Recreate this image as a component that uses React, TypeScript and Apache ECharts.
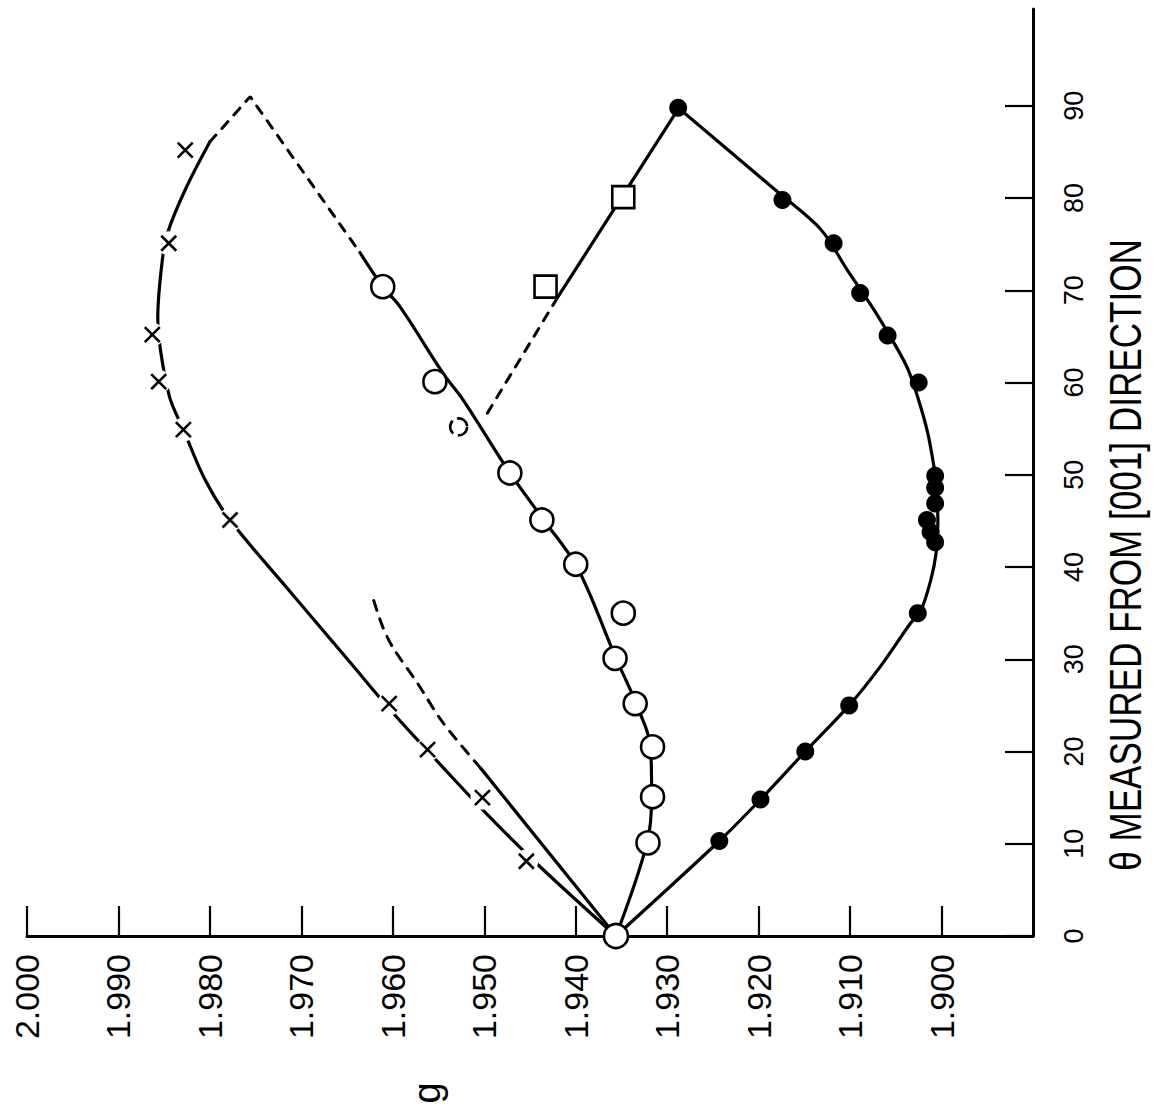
import { useEffect, useRef } from "react";
import * as echarts from "echarts";

// g axis (horizontal) ticks and theta axis (vertical) ticks
const gTicks = [1.9, 1.91, 1.92, 1.93, 1.94, 1.95, 1.96, 1.97, 1.98, 1.99, 2.0];
const thetaTicks = [0, 10, 20, 30, 40, 50, 60, 70, 80, 90];

// [g, theta] pairs
const filledPoints = [
  [1.9243, 10.3], [1.9198, 14.8], [1.9149, 20.0], [1.9101, 25.0], [1.9026, 35.0],
  [1.9007, 42.7], [1.9012, 43.8], [1.9016, 45.1], [1.9007, 46.9], [1.9007, 48.6],
  [1.9007, 49.9], [1.9025, 60.0], [1.9059, 65.1], [1.9089, 69.7], [1.9118, 75.1],
  [1.9174, 79.8], [1.9288, 89.8],
];
const filledCurve = [
  [1.9356, 0], [1.9243, 10.3], [1.9198, 14.8], [1.9149, 20.0], [1.9101, 25.0],
  [1.9067, 29.2], [1.9034, 33.9], [1.9023, 35.2], [1.9012, 38.5], [1.9006, 41.5],
  [1.9004, 45.0], [1.9007, 49.9], [1.9009, 51.3], [1.9015, 54.5], [1.9026, 58.4],
  [1.9037, 61.5], [1.9048, 63.6], [1.9074, 67.9], [1.9103, 72.2], [1.9132, 76.6],
  [1.9182, 80.9], [1.9288, 89.8],
];

const openPoints = [
  [1.9321, 10.1], [1.9316, 15.1], [1.9316, 20.5], [1.9335, 25.2], [1.9357, 30.1],
  [1.9348, 35.0], [1.94, 40.3], [1.9437, 45.1], [1.9472, 50.2], [1.9554, 60.1],
  [1.9611, 70.4],
];
const openBroken = [[1.9528, 55.2]];
const originPoint = [[1.9356, 0]];
const openCurve = [
  [1.9356, 0], [1.9322, 10.1], [1.9317, 15.1], [1.9318, 20.2], [1.9334, 25.2],
  [1.9356, 30.1], [1.9398, 39.9], [1.9435, 45.1], [1.9472, 50.2], [1.9523, 58.1],
  [1.9545, 61.0], [1.9592, 68.2], [1.9611, 70.4], [1.9636, 74.1],
];

const crossPoints = [
  [1.9454, 8.1], [1.9502, 15.0], [1.9562, 20.2], [1.9604, 25.2], [1.9778, 45.1],
  [1.9829, 54.9], [1.9856, 60.1], [1.9863, 65.2], [1.9845, 75.1], [1.9827, 85.2],
];
const crossCurve = [
  [1.9356, 0], [1.9441, 7.7], [1.9499, 13.4], [1.955, 18.8], [1.96, 24.2],
  [1.9647, 29.7], [1.9712, 37.3], [1.9778, 45.1], [1.9805, 49.4], [1.9829, 54.9],
  [1.9844, 58.4], [1.9854, 63.5], [1.9857, 67.0], [1.9852, 73.3], [1.9846, 76.3],
  [1.9827, 80.9], [1.98, 86.1],
];
const closureDash = [[1.98, 86.1], [1.9756, 91.0], [1.9636, 74.1]];

const squarePoints = [[1.9433, 70.4], [1.9348, 80.1]];
const squareSolid = [[1.9287, 89.8], [1.942, 69.2]];
const squareDash = [[1.942, 69.2], [1.9499, 56.3]];

const innerSolid = [[1.9356, 0], [1.9504, 18.2]];
const innerDash = [
  [1.9504, 18.2], [1.9545, 23.1], [1.9573, 27.4], [1.96, 31.3], [1.9611, 33.5], [1.9621, 36.4],
];

const FONT = "'Liberation Sans', Arial, sans-serif";
const INK = "#000";

export default function App() {
  const ref = useRef<HTMLDivElement>(null);
  useEffect(() => {
    if (!ref.current) return;
    const chart = echarts.init(ref.current, null, { renderer: "svg" });
    const line = (data: number[][], type: any = "solid", width = 3.2, smooth: number | boolean = 0.35) => ({
      type: "line",
      data,
      smooth,
      showSymbol: false,
      symbol: "none",
      silent: true,
      z: 2,
      lineStyle: { color: INK, width, type, cap: "round", opacity: 1 },
    });
    const scatter = (data: number[][], symbol: string, size: number, itemStyle: any, z = 4) => ({
      type: "scatter",
      data,
      symbol,
      symbolSize: size,
      silent: true,
      z,
      itemStyle: { opacity: 1, ...itemStyle },
    });
    chart.setOption({
      animation: false,
      backgroundColor: "#fff",
      grid: { left: 27, right: 124, top: 9, bottom: 177, containLabel: false },
      xAxis: {
        type: "value",
        min: 1.89,
        max: 2.0,
        inverse: true,
        position: "bottom",
        splitLine: { show: false },
        axisLine: { show: true, lineStyle: { color: INK, width: 3 } },
        axisTick: { show: true, inside: true, length: 30, customValues: gTicks, lineStyle: { color: INK, width: 2.2 } },
        axisLabel: {
          customValues: gTicks,
          rotate: 90,
          margin: 18,
          color: INK,
          fontFamily: FONT,
          fontSize: 34,
          formatter: (v: number) => v.toFixed(3),
        },
      },
      yAxis: {
        type: "value",
        min: 0,
        max: 100.5,
        position: "right",
        splitLine: { show: false },
        axisLine: { show: true, lineStyle: { color: INK, width: 3 } },
        axisTick: { show: true, inside: true, length: 28, customValues: thetaTicks, lineStyle: { color: INK, width: 2.2 } },
        axisLabel: {
          customValues: thetaTicks,
          rotate: 90,
          margin: 27,
          color: INK,
          fontFamily: FONT,
          fontSize: 27,
          formatter: (v: number) => String(Math.round(v)),
        },
      },
      graphic: [
        {
          type: "text",
          x: 1125,
          y: 555,
          rotation: Math.PI / 2,
          scaleX: 0.78,
          style: {
            text: "\u03B8 MEASURED FROM [001] DIRECTION",
            fill: INK,
            fontFamily: FONT,
            fontSize: 45,
            align: "center",
            verticalAlign: "middle",
          },
        },
        {
          type: "text",
          x: 427,
          y: 1093,
          rotation: Math.PI / 2,
          style: {
            text: "g",
            fill: INK,
            fontFamily: FONT,
            fontSize: 38,
            align: "center",
            verticalAlign: "middle",
          },
        },
      ],
      series: [
        line(filledCurve, "solid", 3.2, 0.3),
        line(openCurve),
        line(crossCurve),
        line(closureDash, [9, 9], 3, false),
        line(squareSolid, "solid", 3.2, false),
        line(squareDash, [9, 9], 3, false),
        line(innerSolid, "solid", 3.2, false),
        line(innerDash, [10, 9], 3, 0.3),
        scatter(crossPoints, "circle", 24, { color: "#fff" }, 3),
        scatter(crossPoints, "path://M0 0L20 20M20 0L0 20", 15, {
          color: "rgba(0,0,0,0)",
          borderColor: INK,
          borderWidth: 2.6,
        }),
        scatter(filledPoints, "circle", 18, { color: INK }),
        scatter(openPoints, "circle", 23, { color: "#fff", borderColor: INK, borderWidth: 2.6 }),
        scatter(openBroken, "circle", 17, {
          color: "#fff",
          borderColor: INK,
          borderWidth: 2.6,
          borderType: [14, 5],
        }),
        scatter(squarePoints, "rect", 22, { color: "#fff", borderColor: INK, borderWidth: 2.6 }),
        scatter(originPoint, "circle", 24, { color: "#fff", borderColor: INK, borderWidth: 2.6 }, 5),
      ],
    });
    return () => chart.dispose();
  }, []);
  return (
    <div
      ref={ref}
      style={{ position: "fixed", left: 0, top: 0, width: 1157, height: 1113, background: "#fff" }}
    />
  );
}
